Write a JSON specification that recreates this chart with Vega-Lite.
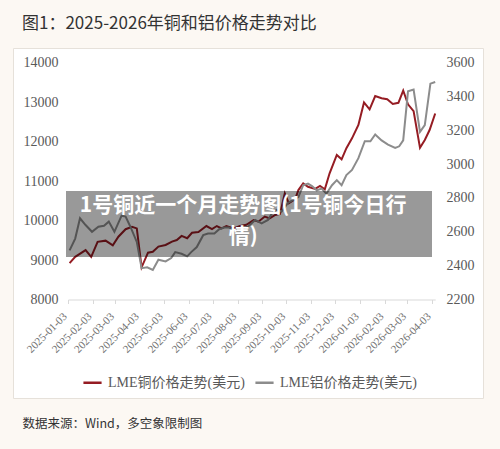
{
  "$schema": "https://vega.github.io/schema/vega-lite/v6.json",
  "width": 470,
  "height": 350,
  "autosize": {"type": "none"},
  "padding": {"left": 13, "top": 48, "right": 17, "bottom": 51},
  "background": "#fcf8f3",
  "title": {
    "text": "图1：2025-2026年铜和铝价格走势对比",
    "anchor": "start",
    "dx": 9,
    "offset": 15,
    "font": "Noto Sans CJK SC",
    "fontSize": 17,
    "fontWeight": "normal",
    "color": "#333333"
  },
  "config": {
    "view": {"fill": "white", "stroke": "#e6e1da"},
    "axis": {"grid": false}
  },
  "datasets": {
    "prices": [
      {"date": "2025-01-05", "series": "铜", "price": 8920},
      {"date": "2025-01-12", "series": "铜", "price": 9080},
      {"date": "2025-01-25", "series": "铜", "price": 9250},
      {"date": "2025-02-01", "series": "铜", "price": 9080},
      {"date": "2025-02-09", "series": "铜", "price": 9460},
      {"date": "2025-02-19", "series": "铜", "price": 9490},
      {"date": "2025-02-28", "series": "铜", "price": 9370},
      {"date": "2025-03-07", "series": "铜", "price": 9590},
      {"date": "2025-03-16", "series": "铜", "price": 9780},
      {"date": "2025-03-24", "series": "铜", "price": 9840},
      {"date": "2025-03-30", "series": "铜", "price": 9800},
      {"date": "2025-04-05", "series": "铜", "price": 8815},
      {"date": "2025-04-13", "series": "铜", "price": 9185},
      {"date": "2025-04-19", "series": "铜", "price": 9210},
      {"date": "2025-04-26", "series": "铜", "price": 9340},
      {"date": "2025-05-05", "series": "铜", "price": 9380},
      {"date": "2025-05-13", "series": "铜", "price": 9465},
      {"date": "2025-05-19", "series": "铜", "price": 9505},
      {"date": "2025-05-25", "series": "铜", "price": 9610},
      {"date": "2025-06-01", "series": "铜", "price": 9550},
      {"date": "2025-06-07", "series": "铜", "price": 9690},
      {"date": "2025-06-15", "series": "铜", "price": 9710},
      {"date": "2025-06-25", "series": "铜", "price": 9860},
      {"date": "2025-07-02", "series": "铜", "price": 9780},
      {"date": "2025-07-08", "series": "铜", "price": 9860},
      {"date": "2025-07-14", "series": "铜", "price": 9800},
      {"date": "2025-07-20", "series": "铜", "price": 9860},
      {"date": "2025-07-29", "series": "铜", "price": 9800},
      {"date": "2025-08-06", "series": "铜", "price": 9860},
      {"date": "2025-08-14", "series": "铜", "price": 9890},
      {"date": "2025-08-23", "series": "铜", "price": 10010},
      {"date": "2025-08-29", "series": "铜", "price": 9970},
      {"date": "2025-09-06", "series": "铜", "price": 10100},
      {"date": "2025-09-12", "series": "铜", "price": 10055},
      {"date": "2025-09-19", "series": "铜", "price": 10140},
      {"date": "2025-09-25", "series": "铜", "price": 10165},
      {"date": "2025-10-01", "series": "铜", "price": 10690},
      {"date": "2025-10-06", "series": "铜", "price": 10435},
      {"date": "2025-10-14", "series": "铜", "price": 10540},
      {"date": "2025-10-18", "series": "铜", "price": 10770},
      {"date": "2025-10-24", "series": "铜", "price": 10940},
      {"date": "2025-10-30", "series": "铜", "price": 10855},
      {"date": "2025-11-08", "series": "铜", "price": 10800},
      {"date": "2025-11-14", "series": "铜", "price": 10875},
      {"date": "2025-11-20", "series": "铜", "price": 10790},
      {"date": "2025-11-26", "series": "铜", "price": 11195},
      {"date": "2025-12-05", "series": "铜", "price": 11660},
      {"date": "2025-12-11", "series": "铜", "price": 11550},
      {"date": "2025-12-17", "series": "铜", "price": 11830},
      {"date": "2025-12-24", "series": "铜", "price": 12080},
      {"date": "2026-01-01", "series": "铜", "price": 12420},
      {"date": "2026-01-08", "series": "铜", "price": 12990},
      {"date": "2026-01-15", "series": "铜", "price": 12815},
      {"date": "2026-01-22", "series": "铜", "price": 13150},
      {"date": "2026-01-30", "series": "铜", "price": 13095},
      {"date": "2026-02-06", "series": "铜", "price": 13070},
      {"date": "2026-02-13", "series": "铜", "price": 12950},
      {"date": "2026-02-20", "series": "铜", "price": 12980},
      {"date": "2026-02-26", "series": "铜", "price": 13290},
      {"date": "2026-03-04", "series": "铜", "price": 12940},
      {"date": "2026-03-11", "series": "铜", "price": 12770},
      {"date": "2026-03-19", "series": "铜", "price": 11840},
      {"date": "2026-03-25", "series": "铜", "price": 12040},
      {"date": "2026-03-31", "series": "铜", "price": 12290},
      {"date": "2026-04-07", "series": "铜", "price": 12710},
      {"date": "2025-01-05", "series": "铝", "price": 2490},
      {"date": "2025-01-12", "series": "铝", "price": 2560},
      {"date": "2025-01-18", "series": "铝", "price": 2680},
      {"date": "2025-01-25", "series": "铝", "price": 2640},
      {"date": "2025-02-02", "series": "铝", "price": 2600},
      {"date": "2025-02-10", "series": "铝", "price": 2630},
      {"date": "2025-02-17", "series": "铝", "price": 2635},
      {"date": "2025-02-23", "series": "铝", "price": 2660},
      {"date": "2025-03-02", "series": "铝", "price": 2600},
      {"date": "2025-03-11", "series": "铝", "price": 2695},
      {"date": "2025-03-16", "series": "铝", "price": 2690},
      {"date": "2025-03-22", "series": "铝", "price": 2630},
      {"date": "2025-03-30", "series": "铝", "price": 2540},
      {"date": "2025-04-05", "series": "铝", "price": 2385},
      {"date": "2025-04-12", "series": "铝", "price": 2390},
      {"date": "2025-04-19", "series": "铝", "price": 2375},
      {"date": "2025-04-26", "series": "铝", "price": 2435},
      {"date": "2025-05-05", "series": "铝", "price": 2425},
      {"date": "2025-05-12", "series": "铝", "price": 2445},
      {"date": "2025-05-17", "series": "铝", "price": 2480},
      {"date": "2025-05-25", "series": "铝", "price": 2470},
      {"date": "2025-06-01", "series": "铝", "price": 2455},
      {"date": "2025-06-06", "series": "铝", "price": 2480},
      {"date": "2025-06-13", "series": "铝", "price": 2510},
      {"date": "2025-06-21", "series": "铝", "price": 2580},
      {"date": "2025-06-27", "series": "铝", "price": 2590},
      {"date": "2025-07-05", "series": "铝", "price": 2590},
      {"date": "2025-07-11", "series": "铝", "price": 2615},
      {"date": "2025-07-17", "series": "铝", "price": 2625},
      {"date": "2025-07-23", "series": "铝", "price": 2625},
      {"date": "2025-07-31", "series": "铝", "price": 2610},
      {"date": "2025-08-08", "series": "铝", "price": 2620},
      {"date": "2025-08-16", "series": "铝", "price": 2630},
      {"date": "2025-08-25", "series": "铝", "price": 2670},
      {"date": "2025-09-02", "series": "铝", "price": 2650},
      {"date": "2025-09-10", "series": "铝", "price": 2670},
      {"date": "2025-09-15", "series": "铝", "price": 2710},
      {"date": "2025-09-21", "series": "铝", "price": 2730},
      {"date": "2025-09-27", "series": "铝", "price": 2720},
      {"date": "2025-10-05", "series": "铝", "price": 2770},
      {"date": "2025-10-12", "series": "铝", "price": 2790},
      {"date": "2025-10-18", "series": "铝", "price": 2805},
      {"date": "2025-10-24", "series": "铝", "price": 2875},
      {"date": "2025-10-30", "series": "铝", "price": 2885},
      {"date": "2025-11-04", "series": "铝", "price": 2870},
      {"date": "2025-11-10", "series": "铝", "price": 2845},
      {"date": "2025-11-16", "series": "铝", "price": 2855},
      {"date": "2025-11-22", "series": "铝", "price": 2825},
      {"date": "2025-11-29", "series": "铝", "price": 2875},
      {"date": "2025-12-05", "series": "铝", "price": 2905},
      {"date": "2025-12-11", "series": "铝", "price": 2875},
      {"date": "2025-12-17", "series": "铝", "price": 2935},
      {"date": "2025-12-24", "series": "铝", "price": 2965},
      {"date": "2026-01-01", "series": "铝", "price": 3035},
      {"date": "2026-01-09", "series": "铝", "price": 3135},
      {"date": "2026-01-16", "series": "铝", "price": 3135},
      {"date": "2026-01-22", "series": "铝", "price": 3175},
      {"date": "2026-01-30", "series": "铝", "price": 3140},
      {"date": "2026-02-07", "series": "铝", "price": 3115},
      {"date": "2026-02-16", "series": "铝", "price": 3095},
      {"date": "2026-02-21", "series": "铝", "price": 3105},
      {"date": "2026-02-26", "series": "铝", "price": 3140},
      {"date": "2026-03-04", "series": "铝", "price": 3430},
      {"date": "2026-03-11", "series": "铝", "price": 3440},
      {"date": "2026-03-19", "series": "铝", "price": 3190},
      {"date": "2026-03-25", "series": "铝", "price": 3230},
      {"date": "2026-04-01", "series": "铝", "price": 3475},
      {"date": "2026-04-07", "series": "铝", "price": 3485}
    ]
  },
  "layer": [
    {
      "data": {"name": "prices"},
      "transform": [{"filter": "datum.series === '铜'"}],
      "mark": {"type": "line", "strokeWidth": 2},
      "encoding": {
        "x": {
          "field": "date",
          "type": "temporal",
          "scale": {
            "domain": [{"year": 2025, "month": 1, "date": 3}, {"year": 2026, "month": 4, "date": 7}],
            "range": [55, 422.2]
          },
          "axis": {
            "orient": "bottom",
            "offset": -98.5,
            "values": [
              {"year": 2025, "month": 1, "date": 3}, {"year": 2025, "month": 2, "date": 3},
              {"year": 2025, "month": 3, "date": 3}, {"year": 2025, "month": 4, "date": 3},
              {"year": 2025, "month": 5, "date": 3}, {"year": 2025, "month": 6, "date": 3},
              {"year": 2025, "month": 7, "date": 3}, {"year": 2025, "month": 8, "date": 3},
              {"year": 2025, "month": 9, "date": 3}, {"year": 2025, "month": 10, "date": 3},
              {"year": 2025, "month": 11, "date": 3}, {"year": 2025, "month": 12, "date": 3},
              {"year": 2026, "month": 1, "date": 3}, {"year": 2026, "month": 2, "date": 3},
              {"year": 2026, "month": 3, "date": 3}, {"year": 2026, "month": 4, "date": 3}
            ],
            "tickCount": 30,
            "format": "%Y-%m-%d",
            "labelAngle": -45,
            "labelAlign": "right",
            "labelBaseline": "middle",
            "labelOverlap": false,
            "labelFlush": false,
            "labelBound": false,
            "labelFont": "Liberation Serif",
            "labelFontSize": 11,
            "labelColor": "#707070",
            "labelPadding": 11,
            "labelOffset": -3,
            "domainColor": "#d9d9d9",
            "tickColor": "#d9d9d9",
            "tickSize": 4,
            "title": "数据来源：Wind，多空象限制图",
            "titleX": 9,
            "titleY": 123.5,
            "titleAlign": "left",
            "titleBaseline": "middle",
            "titleFont": "Noto Sans CJK SC",
            "titleFontSize": 12.5,
            "titleFontWeight": "normal",
            "titleColor": "#333333"
          }
        },
        "y": {
          "field": "price",
          "type": "quantitative",
          "scale": {"domain": [8000, 14000], "range": [251.5, 14.5], "zero": false, "nice": false},
          "axis": {
            "orient": "left",
            "offset": -47,
            "values": [8000, 9000, 10000, 11000, 12000, 13000, 14000],
            "tickCount": 30,
            "format": "d",
            "domain": false,
            "ticks": false,
            "labelFont": "Liberation Serif",
            "labelFontSize": 14,
            "labelColor": "#595959",
            "labelPadding": 2,
            "title": null
          }
        },
        "color": {
          "field": "series",
          "type": "nominal",
          "scale": {"domain": ["铜", "铝"], "range": ["#951c23", "#8c8c8c"]},
          "legend": {
            "orient": "none",
            "legendX": 69,
            "legendY": 324,
            "direction": "horizontal",
            "title": null,
            "symbolType": "stroke",
            "symbolStrokeWidth": 2.5,
            "symbolSize": 330,
            "labelExpr": "'LME' + datum.label + '价格走势(美元)'",
            "labelFont": "'Liberation Serif', 'Noto Sans CJK SC'",
            "labelFontSize": 14,
            "labelColor": "#595959",
            "labelOffset": 5,
            "labelLimit": 300,
            "columnPadding": 5
          }
        }
      }
    },
    {
      "layer": [
        {
          "data": {"name": "prices"},
          "transform": [{"filter": "datum.series === '铝'"}],
          "mark": {"type": "line", "strokeWidth": 2},
          "encoding": {
            "x": {
              "field": "date",
              "type": "temporal",
              "scale": {
                "domain": [{"year": 2025, "month": 1, "date": 3}, {"year": 2026, "month": 4, "date": 7}],
                "range": [55, 422.2]
              }
            },
            "y": {
              "field": "price",
              "type": "quantitative",
              "scale": {"domain": [2200, 3600], "range": [251.5, 14.5], "zero": false, "nice": false},
              "axis": {
                "orient": "right",
                "offset": -40,
                "values": [2200, 2400, 2600, 2800, 3000, 3200, 3400, 3600],
                "tickCount": 30,
                "format": "d",
                "domain": false,
                "ticks": false,
                "labelFont": "Liberation Serif",
                "labelFontSize": 14,
                "labelColor": "#595959",
                "labelPadding": 3,
                "title": null
              }
            },
            "color": {
              "field": "series",
              "type": "nominal",
              "scale": {"domain": ["铜", "铝"], "range": ["#951c23", "#8c8c8c"]}
            }
          }
        },
        {
          "data": {"values": [{}]},
          "mark": {"type": "rect", "color": "black", "opacity": 0.4},
          "encoding": {
            "x": {"datum": {"year": 2024, "month": 12, "date": 31, "hours": 12}, "type": "temporal"},
            "x2": {"datum": {"year": 2026, "month": 4, "date": 3}},
            "y": {"datum": 2841, "type": "quantitative"},
            "y2": {"datum": 2451}
          }
        },
        {
          "data": {"values": [{}]},
          "mark": {
            "type": "text",
            "color": "white",
            "font": "Noto Sans CJK SC",
            "fontSize": 21,
            "fontWeight": "bold",
            "align": "center",
            "baseline": "top",
            "lineBreak": "\n",
            "lineHeight": 31
          },
          "encoding": {
            "x": {"datum": {"year": 2025, "month": 8, "date": 10}, "type": "temporal"},
            "y": {"datum": 2817, "type": "quantitative"},
            "text": {"value": "1号铜近一个月走势图(1号铜今日行\n情)"}
          }
        }
      ]
    }
  ],
  "resolve": {"scale": {"y": "independent"}, "axis": {"y": "independent"}}
}
